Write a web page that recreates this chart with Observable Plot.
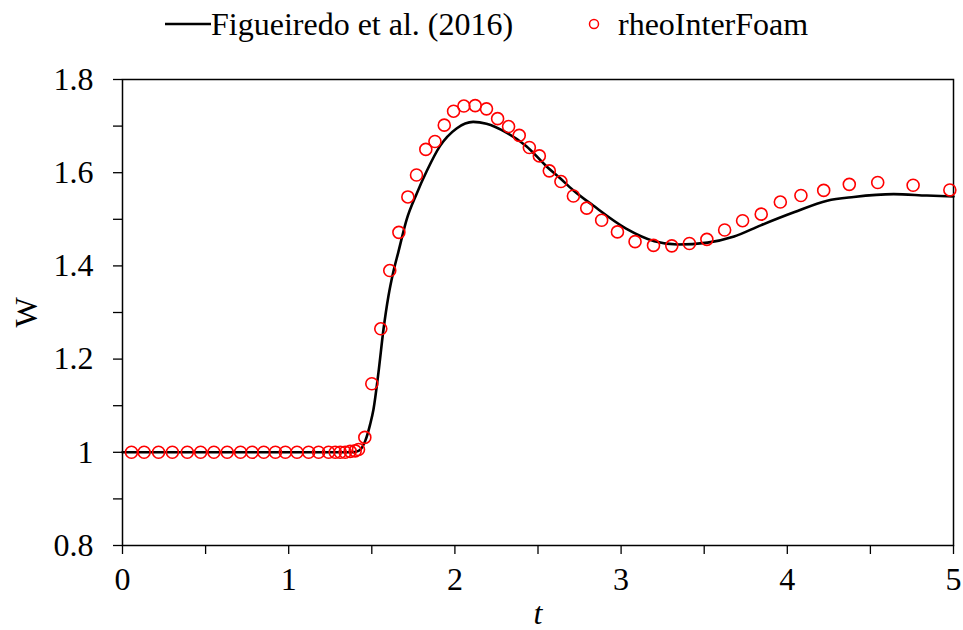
<!DOCTYPE html>
<html>
<head>
<meta charset="utf-8">
<script src="https://cdn.jsdelivr.net/npm/d3@7"></script>
<script src="https://cdn.jsdelivr.net/npm/@observablehq/plot@0.6"></script>
<style>
  html, body { margin: 0; padding: 0; background: #fff; }
  #wrap { position: relative; width: 963px; height: 630px; font-family: "Liberation Serif", "Times New Roman", Times, "DejaVu Serif", serif; }
  #legend { position: absolute; left: 0; top: 0; width: 963px; height: 50px; font-size: 32px; color: #000; }
  #legend .item { position: absolute; top: 4px; display: flex; align-items: center; white-space: nowrap; line-height: 40px; }
</style>
</head>
<body>
<div id="wrap">
  <div id="chart"></div>
  <div id="legend">
    <div class="item" style="left:165px;"><svg width="46" height="40"><line x1="0" x2="46" y1="20" y2="20" stroke="#000" stroke-width="2.5"/></svg><span>Figueiredo et al. (2016)</span></div>
    <div class="item" style="left:587px;"><svg width="31" height="40"><circle cx="7" cy="20" r="4.5" fill="none" stroke="#ff0000" stroke-width="1.5"/></svg><span>rheoInterFoam</span></div>
  </div>
</div>
<script>
// Reference curve: Figueiredo et al. (2016)
const refT = [0, 1.0, 1.38, 1.42, 1.46, 1.49, 1.51, 1.54, 1.57, 1.60, 1.63, 1.66, 1.71, 1.77, 1.83, 1.91, 2.01, 2.11, 2.19, 2.31, 2.43, 2.55, 2.63, 2.71, 2.83, 3.03, 3.20, 3.34, 3.52, 3.68, 3.84, 4.04, 4.24, 4.40, 4.64, 4.84, 5.0];
const refW = [1, 1, 1.0, 1.003, 1.024, 1.06, 1.092, 1.171, 1.263, 1.335, 1.388, 1.43, 1.50, 1.555, 1.603, 1.657, 1.695, 1.709, 1.705, 1.686, 1.657, 1.614, 1.589, 1.563, 1.530, 1.480, 1.453, 1.446, 1.450, 1.463, 1.487, 1.515, 1.540, 1.548, 1.554, 1.551, 1.549];

// Simulation points: rheoInterFoam
const simT = [0.054, 0.13, 0.217, 0.30, 0.39, 0.47, 0.55, 0.63, 0.71, 0.78, 0.85, 0.92, 0.98, 1.05, 1.12, 1.18, 1.24, 1.28, 1.31, 1.34, 1.37, 1.40, 1.42, 1.458, 1.50, 1.554, 1.608, 1.663, 1.717, 1.769, 1.825, 1.88, 1.936, 1.992, 2.054, 2.122, 2.19, 2.257, 2.323, 2.387, 2.448, 2.508, 2.568, 2.638, 2.713, 2.793, 2.883, 2.978, 3.084, 3.195, 3.305, 3.411, 3.516, 3.623, 3.731, 3.843, 3.958, 4.082, 4.219, 4.373, 4.544, 4.757, 4.978];
const simW = [1, 1, 1, 1, 1, 1, 1, 1, 1, 1, 1, 1, 1, 1, 1, 1, 1, 1, 1, 1, 1.002, 1.003, 1.006, 1.032, 1.147, 1.265, 1.39, 1.472, 1.548, 1.595, 1.65, 1.667, 1.702, 1.732, 1.743, 1.744, 1.737, 1.716, 1.699, 1.680, 1.654, 1.636, 1.604, 1.581, 1.550, 1.524, 1.498, 1.473, 1.452, 1.444, 1.443, 1.448, 1.457, 1.477, 1.497, 1.511, 1.537, 1.551, 1.562, 1.575, 1.579, 1.573, 1.563];

const xMajor = [0, 1, 2, 3, 4, 5];
const xMinor = [0.5, 1.5, 2.5, 3.5, 4.5];
const yMajor = [0.8, 1.0, 1.2, 1.4, 1.6, 1.8];
const yMinor = [0.9, 1.1, 1.3, 1.5, 1.7];

const refData = refT.map((t, i) => ({t, W: refW[i]}));
const simData = simT.map((t, i) => ({t, W: simW[i]}));

const fmt = d3.format("~g");
const serif = "'Liberation Serif', 'Times New Roman', Times, 'DejaVu Serif', serif";

const chart = Plot.plot({
  width: 963,
  height: 630,
  marginLeft: 122,
  marginRight: 10,
  marginTop: 79,
  marginBottom: 85,
  style: {fontFamily: serif, background: "#fff", color: "#000"},
  x: {domain: [0, 5]},
  y: {domain: [0.8, 1.8]},
  marks: [
    Plot.frame({stroke: "#000", strokeWidth: 1.5}),
    Plot.axisX({ticks: xMinor, tickSize: 9, text: null, label: null, strokeWidth: 1.3}),
    Plot.axisY({ticks: yMinor, tickSize: 9, text: null, label: null, strokeWidth: 1.3}),
    Plot.axisX({ticks: xMajor, tickSize: 9, tickPadding: 13, fontSize: 32, tickFormat: fmt, strokeWidth: 1.3,
                label: "t", labelAnchor: "center", labelArrow: "none", labelOffset: 78}),
    Plot.axisY({ticks: yMajor, tickSize: 9, tickPadding: 20, fontSize: 32, tickFormat: fmt, strokeWidth: 1.3,
                label: "W", labelAnchor: "center", labelArrow: "none", labelOffset: 108}),
    Plot.line(refData, {x: "t", y: "W", stroke: "#000", strokeWidth: 2.6, curve: "monotone-x"}),
    Plot.dot(simData, {x: "t", y: "W", r: 6, stroke: "#ff0000", strokeWidth: 1.6, fill: "none"})
  ]
});

document.getElementById("chart").appendChild(chart);
d3.select(chart).style("font-family", serif);

// italic t label
d3.select(chart).selectAll("g[aria-label='x-axis label'] text").style("font-style", "italic");
</script>
</body>
</html>
